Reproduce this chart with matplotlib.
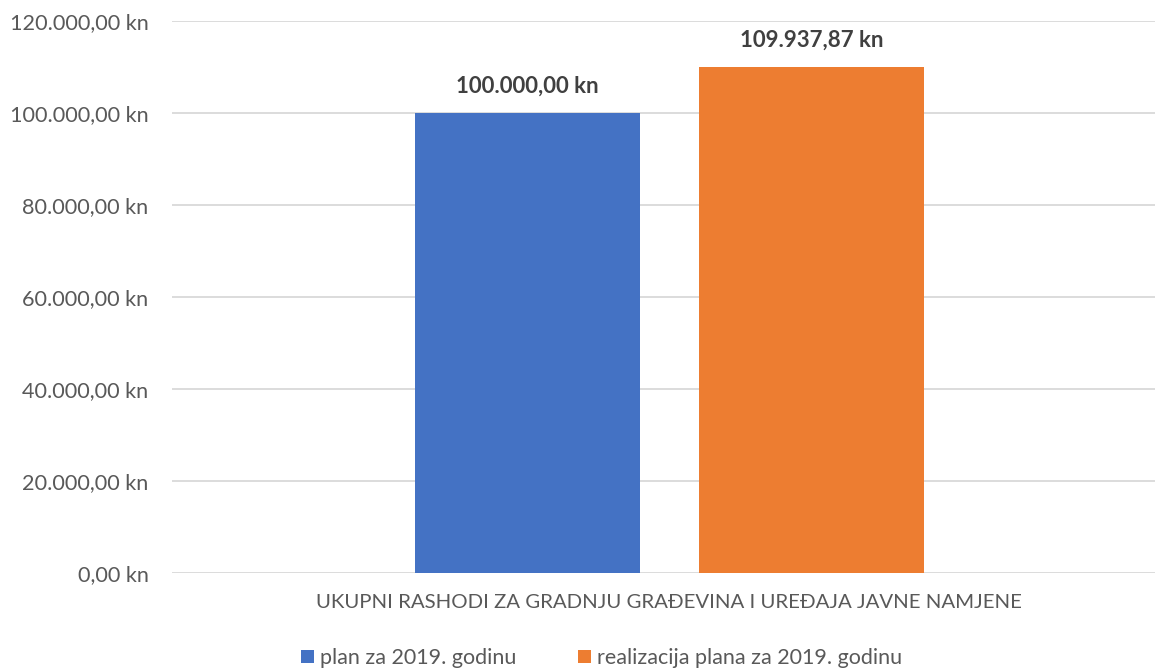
import matplotlib
matplotlib.use("Agg")
import matplotlib.pyplot as plt
from matplotlib.ticker import FuncFormatter
from matplotlib.patches import Patch

category = "UKUPNI RASHODI ZA GRADNJU GRAĐEVINA I UREĐAJA JAVNE NAMJENE"
series_names = ["plan za 2019. godinu", "realizacija plana za 2019. godinu"]
values = [100000.00, 109937.87]
colors = ["#4472C4", "#ED7D31"]
yticks = [0, 20000, 40000, 60000, 80000, 100000, 120000]

plt.rcParams['font.family'] = ['Lato', 'DejaVu Sans']

def fmt_kn(v):
    s = f"{v:,.2f}"
    s = s.replace(",", "X").replace(".", ",").replace("X", ".")
    return s + " kn"

W, H = 1157, 671
fig = plt.figure(figsize=(W / 100, H / 100), dpi=100)
left, right = 172 / W, 1155 / W
bottom, top = 1 - 573 / H, 1 - 21 / H
ax = fig.add_axes([left, bottom, right - left, top - bottom])

bw = 0.229
offsets = [-0.1445, 0.1445]
for v, c, off in zip(values, colors, offsets):
    ax.bar(off, v, width=bw, color=c, zorder=3)
    ax.text(off, v + 3600, fmt_kn(v), ha='center', va='bottom',
            fontsize=16, fontweight='bold', color='#404040')

ax.set_xlim(-0.506, 0.494)
ax.set_ylim(0, 120000)
ax.set_yticks(yticks)
ax.yaxis.set_major_formatter(FuncFormatter(lambda v, p: fmt_kn(v)))
ax.tick_params(axis='y', length=0, pad=17, labelsize=15.6, labelcolor='#595959')
ax.set_xticks([0])
ax.set_xticklabels([category])
ax.tick_params(axis='x', length=0, pad=15, labelsize=14.7, labelcolor='#595959')
ax.grid(axis='y', color='#D9D9D9', linewidth=1.3, zorder=0)
for s in ax.spines.values():
    s.set_visible(False)

handles = [Patch(facecolor=c, label=n) for c, n in zip(colors, series_names)]
fig.legend(handles=handles, loc='center', bbox_to_anchor=(0.52, 1 - 658 / H),
           ncol=2, frameon=False, fontsize=15.5, handlelength=0.6, handleheight=0.6,
           handletextpad=0.25, columnspacing=2.9, labelcolor='#595959')

fig.savefig("out.png", dpi=100, facecolor='white')
